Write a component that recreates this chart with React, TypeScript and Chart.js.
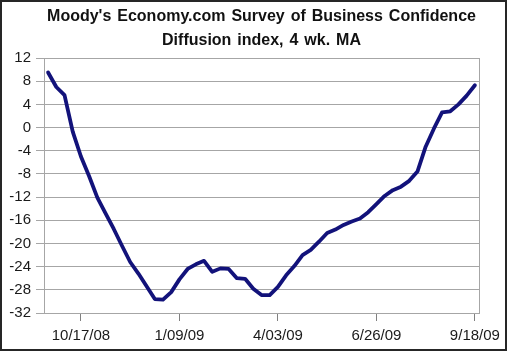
import React, { useEffect, useRef } from "react";
import { Chart, registerables } from "chart.js";

Chart.register(...registerables);

const titleLines = [
  "Moody's Economy.com Survey of Business Confidence",
  "Diffusion index, 4 wk. MA",
];

const weekLabels = [
  "9/19/08", "9/26/08", "10/03/08", "10/10/08", "10/17/08", "10/24/08", "10/31/08",
  "11/07/08", "11/14/08", "11/21/08", "11/28/08", "12/05/08", "12/12/08", "12/19/08",
  "12/26/08", "1/02/09", "1/09/09", "1/16/09", "1/23/09", "1/30/09", "2/06/09",
  "2/13/09", "2/20/09", "2/27/09", "3/06/09", "3/13/09", "3/20/09", "3/27/09",
  "4/03/09", "4/10/09", "4/17/09", "4/24/09", "5/01/09", "5/08/09", "5/15/09",
  "5/22/09", "5/29/09", "6/05/09", "6/12/09", "6/19/09", "6/26/09", "7/03/09",
  "7/10/09", "7/17/09", "7/24/09", "7/31/09", "8/07/09", "8/14/09", "8/21/09",
  "8/28/09", "9/04/09", "9/11/09", "9/18/09",
];

const indexValues = [
  9.5, 7.0, 5.6, -0.7, -5.0, -8.4, -12.1,
  -14.8, -17.5, -20.4, -23.2, -25.2, -27.4, -29.6,
  -29.7, -28.4, -26.2, -24.4, -23.6, -23.0, -24.9,
  -24.3, -24.4, -26.0, -26.1, -27.8, -28.9, -28.9,
  -27.5, -25.5, -23.9, -22.0, -21.1, -19.7, -18.2,
  -17.6, -16.8, -16.2, -15.7, -14.6, -13.2, -11.8,
  -10.8, -10.2, -9.2, -7.6, -3.3, -0.2, 2.6,
  2.8, 4.0, 5.5, 7.3,
];

const tickLabels = ["10/17/08", "1/09/09", "4/03/09", "6/26/09", "9/18/09"];

const yMin = -32;
const yMax = 12;
const yStep = 4;

const FONT = '"Liberation Sans", Arial, sans-serif';

const decorPlugin = {
  id: "decor",
  beforeDraw(chart: any) {
    const ctx = chart.ctx;
    ctx.save();
    ctx.fillStyle = "#ffffff";
    ctx.fillRect(0, 0, chart.width, chart.height);
    ctx.restore();
  },
  afterDraw(chart: any) {
    const ctx = chart.ctx;
    const a = chart.chartArea;
    ctx.save();
    ctx.strokeStyle = "#a6a6a6";
    ctx.lineWidth = 1;
    ctx.strokeRect(Math.round(a.left) + 0.5, Math.round(a.top) + 0.5, Math.round(a.right - a.left), Math.round(a.bottom - a.top));
    ctx.fillStyle = "#111111";
    ctx.font = `bold 16px ${FONT}`;
    try {
      (ctx as any).wordSpacing = "1.5px";
    } catch (e) {}
    ctx.textAlign = "center";
    ctx.textBaseline = "middle";
    const cx = (a.left + a.right) / 2;
    ctx.fillText(titleLines[0], cx, 17);
    ctx.fillText(titleLines[1], cx, 41);
    try {
      (ctx as any).wordSpacing = "0px";
    } catch (e) {}
    ctx.strokeStyle = "#262626";
    ctx.lineWidth = 2;
    ctx.strokeRect(1, 1, 505, 349);
    ctx.restore();
  },
};

export default function App() {
  const canvasRef = useRef<HTMLCanvasElement | null>(null);

  useEffect(() => {
    document.body.style.margin = "0";
    const canvas = canvasRef.current;
    if (!canvas) return;
    const chart = new Chart(canvas, {
      type: "line",
      data: {
        labels: weekLabels,
        datasets: [
          {
            data: indexValues,
            borderColor: "#12127a",
            borderWidth: 3.8,
            pointRadius: 0,
            tension: 0,
            borderJoinStyle: "round",
            borderCapStyle: "round",
            fill: false,
          },
        ],
      },
      options: {
        responsive: false,
        animation: false,
        devicePixelRatio: 1,
        layout: { padding: { top: 58, right: 31, left: 0, bottom: 0 } },
        plugins: {
          legend: { display: false },
          title: { display: false },
          tooltip: { enabled: false },
        },
        scales: {
          x: {
            type: "category",
            offset: true,
            afterFit(scale: any) {
              scale.height = 40;
            },
            grid: {
              drawOnChartArea: false,
              drawTicks: true,
              tickLength: 8,
              color: (c: any) =>
                c.index < weekLabels.length && tickLabels.includes(weekLabels[c.index])
                  ? "#808080"
                  : "rgba(0,0,0,0)",
            },
            border: { display: true, color: "#a6a6a6" },
            ticks: {
              autoSkip: false,
              maxRotation: 0,
              minRotation: 0,
              padding: 6,
              color: "#1a1a1a",
              font: { family: FONT, size: 15 },
              callback: (_v: any, i: number) =>
                tickLabels.includes(weekLabels[i]) ? weekLabels[i] : "",
            },
          },
          y: {
            min: yMin,
            max: yMax,
            afterFit(scale: any) {
              scale.width = 44;
            },
            grid: {
              color: "#a6a6a6",
              tickLength: 8,
              drawTicks: true,
            },
            border: { display: true, color: "#a6a6a6" },
            ticks: {
              stepSize: yStep,
              padding: 5,
              color: "#1a1a1a",
              font: { family: FONT, size: 15 },
            },
          },
        },
      },
      plugins: [decorPlugin],
    });
    return () => chart.destroy();
  }, []);

  return (
    <div style={{ position: "absolute", left: 0, top: 0, width: 510, height: 353 }}>
      <canvas ref={canvasRef} width={510} height={353} style={{ width: 510, height: 353, display: "block" }} />
    </div>
  );
}
